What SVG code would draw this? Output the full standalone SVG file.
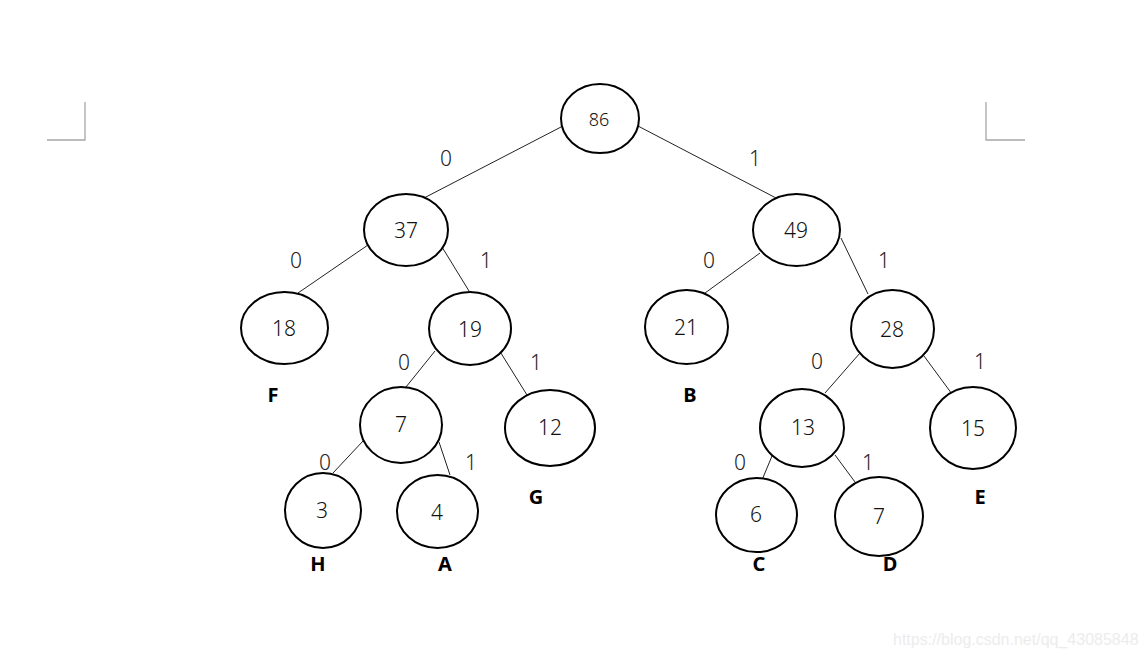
<svg xmlns="http://www.w3.org/2000/svg" width="1145" height="658" viewBox="0 0 1145 658">
<style>
.n{fill:#fff;stroke:#000;stroke-width:2}
.e{stroke:#222;stroke-width:1;fill:none}
.c{stroke:#a6a6a6;stroke-width:1.3;fill:none}
.t{font-family:"Noto Sans","DejaVu Sans",sans-serif;font-weight:300;font-size:21px;fill:#111;text-anchor:middle;dominant-baseline:central}
.lb{font-family:"Noto Sans","DejaVu Sans",sans-serif;font-weight:300;font-size:21px;fill:#222;text-anchor:middle;dominant-baseline:central}
.L{font-family:"Noto Sans","DejaVu Sans",sans-serif;font-weight:bold;font-size:20px;fill:#000;text-anchor:middle;dominant-baseline:central}
.w{font-family:"Liberation Sans",Arial,sans-serif;font-size:16px;fill:#ececec}
</style>
<rect width="1145" height="658" fill="#fff"/>
<g id="corners">
<path class="c" d="M47 140H85V102"/>
<path class="c" d="M1025 140H986V102"/>
</g>
<g id="connectors">
<line class="e" x1="561" y1="127" x2="424" y2="198"/>
<line class="e" x1="638" y1="126" x2="776" y2="198"/>
<line class="e" x1="368" y1="245" x2="298" y2="293"/>
<line class="e" x1="442" y1="247" x2="469" y2="291"/>
<line class="e" x1="760" y1="253" x2="705" y2="293"/>
<line class="e" x1="841" y1="238" x2="868" y2="294"/>
<line class="e" x1="435" y1="351" x2="406" y2="387"/>
<line class="e" x1="499" y1="350" x2="527" y2="395"/>
<line class="e" x1="363" y1="441" x2="333" y2="473"/>
<line class="e" x1="439" y1="442" x2="450" y2="475"/>
<line class="e" x1="860" y1="353" x2="825" y2="393"/>
<line class="e" x1="924" y1="356" x2="952" y2="394"/>
<line class="e" x1="772" y1="456" x2="762" y2="480"/>
<line class="e" x1="835" y1="455" x2="855" y2="482"/>
<text class="lb" x="446" y="158">0</text>
<text class="lb" x="755" y="158">1</text>
<text class="lb" x="296" y="260">0</text>
<text class="lb" x="486" y="260">1</text>
<text class="lb" x="709" y="260">0</text>
<text class="lb" x="884" y="260">1</text>
<text class="lb" x="404" y="362">0</text>
<text class="lb" x="536" y="362">1</text>
<text class="lb" x="817" y="361">0</text>
<text class="lb" x="980" y="361">1</text>
<text class="lb" x="325" y="462">0</text>
<text class="lb" x="471" y="462">1</text>
<text class="lb" x="740" y="462">0</text>
<text class="lb" x="868" y="462">1</text>
</g>
<g id="n86"><ellipse class="n" cx="600" cy="118.5" rx="39" ry="34.5"/><text class="t" x="599" y="119" style="font-size:18px">86</text></g>
<g id="n37"><ellipse class="n" cx="406" cy="230" rx="42" ry="36"/><text class="t" x="406" y="230">37</text></g>
<g id="n49"><ellipse class="n" cx="796.5" cy="230" rx="43.5" ry="36"/><text class="t" x="796" y="230">49</text></g>
<g id="n18"><ellipse class="n" cx="284.5" cy="328" rx="43.5" ry="36"/><text class="t" x="284" y="328">18</text></g>
<g id="n19"><ellipse class="n" cx="470" cy="328.5" rx="41" ry="36.5"/><text class="t" x="470" y="329">19</text></g>
<g id="n21"><ellipse class="n" cx="686.5" cy="327" rx="41.5" ry="37"/><text class="t" x="686" y="327">21</text></g>
<g id="n28"><ellipse class="n" cx="892.5" cy="329" rx="41.5" ry="39"/><text class="t" x="892" y="329">28</text></g>
<g id="n7a"><ellipse class="n" cx="401" cy="425" rx="41" ry="38"/><text class="t" x="401" y="424">7</text></g>
<g id="n12"><ellipse class="n" cx="550" cy="428" rx="45" ry="38"/><text class="t" x="550" y="427">12</text></g>
<g id="n3"><ellipse class="n" cx="323" cy="510.5" rx="38" ry="37.5"/><text class="t" x="322" y="510">3</text></g>
<g id="n4"><ellipse class="n" cx="437.5" cy="511.5" rx="40.5" ry="36.5"/><text class="t" x="437" y="512">4</text></g>
<g id="n13"><ellipse class="n" cx="802" cy="428" rx="42" ry="39"/><text class="t" x="803" y="427">13</text></g>
<g id="n15"><ellipse class="n" cx="973" cy="428" rx="43" ry="41"/><text class="t" x="973" y="428">15</text></g>
<g id="n6"><ellipse class="n" cx="756.5" cy="515" rx="40.5" ry="37"/><text class="t" x="756" y="514">6</text></g>
<g id="n7b"><ellipse class="n" cx="879" cy="516.5" rx="44" ry="39.5"/><text class="t" x="879" y="516">7</text></g>
<g id="letters">
<text class="L" x="273" y="394">F</text>
<text class="L" x="690" y="394">B</text>
<text class="L" x="536" y="496">G</text>
<text class="L" x="980" y="496">E</text>
<text class="L" x="318" y="563">H</text>
<text class="L" x="445" y="563">A</text>
<text class="L" x="759" y="563">C</text>
<text class="L" x="890" y="563">D</text>
</g>
<text class="w" x="893" y="645">https://blog.csdn.net/qq_43085848</text>
</svg>
